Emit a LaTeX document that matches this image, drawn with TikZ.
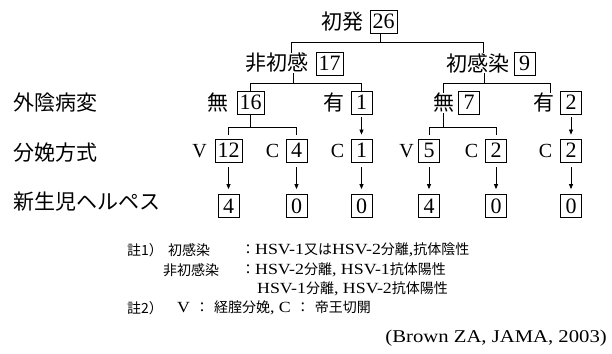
\documentclass[tikz,border=0pt]{standalone}
\usepackage{fontspec}
\setmainfont{Liberation Serif}
\newfontfamily\jpf{Noto Sans CJK JP}
\newfontfamily\widef{Liberation Serif}[FakeStretch=1.15]
\usetikzlibrary{arrows.meta,calc}
\newcommand{\J}[1]{{\jpf\fontsize{14}{14}\selectfont #1}}
\begin{document}
\begin{tikzpicture}[x=1pt,y=-1pt,
  lab/.style={font=\jpf\fontsize{21}{21}\selectfont, inner sep=0pt},
  num/.style={draw, line width=0.8pt, font=\fontsize{22}{22}\selectfont,
    minimum width=21pt, minimum height=23pt, inner xsep=2.5pt, inner ysep=0pt},
  vc/.style={font=\fontsize{20}{20}\selectfont, inner sep=0pt},
  conn/.style={line width=0.7pt},
  arr/.style={conn, -{Triangle[length=5pt,width=4pt]}, shorten <=3pt, shorten >=4pt},
  drop/.style={conn, shorten >=4pt},
  note/.style={font=\widef\fontsize{15.5}{15.5}\selectfont, inner sep=0pt, anchor=west},
  jnote/.style={font=\jpf\fontsize{14}{14}\selectfont, inner sep=0pt, anchor=west}]
\useasboundingbox (0,0) rectangle (612,353);
\fill[white] (0,0) rectangle (612,353);

% row labels
\node[lab, anchor=west] (ra) at (13,103) {外陰病変};
\node[lab, anchor=west] (rb) at (13,153) {分娩方式};
\node[lab, anchor=west] (rc) at (13,202) {新生児ヘルペス};

% level 1
\node[lab] (top) at (342,22) {初発};
\node[num] (n26) at (383.5,21.5) {26};
% level 2
\node[lab] (l2a) at (277,63) {非初感};
\node[num] (n17) at (329.5,63.5) {17};
\node[lab] (l2b) at (478,63) {初感染};
\node[num] (n9) at (524.5,63.5) {9};
% level 3
\node[lab] (m1) at (217.5,103) {無};
\node[num] (n16) at (250.5,102.5) {16};
\node[lab] (u1) at (334,103) {有};
\node[num] (n1a) at (361.5,102.5) {1};
\node[lab] (m2) at (443.5,103) {無};
\node[num] (n7) at (469,102.5) {7};
\node[lab] (u2) at (543.5,103) {有};
\node[num] (n2a) at (571,102.5) {2};
% level 4
\node[vc] (v1) at (199.5,151) {V};
\node[num] (n12) at (228.5,150.5) {12};
\node[vc] (c1) at (272.5,151) {C};
\node[num] (n4) at (296.5,150.5) {4};
\node[vc] (c2) at (337.5,151) {C};
\node[num] (n1b) at (361.5,150.5) {1};
\node[vc] (v2) at (406.5,151) {V};
\node[num] (n5) at (429,150.5) {5};
\node[vc] (c3) at (471.5,151) {C};
\node[num] (n2b) at (496,150.5) {2};
\node[vc] (c4) at (545.5,151) {C};
\node[num] (n2c) at (571,150.5) {2};
% level 5
\node[num] (r1) at (228.5,206) {4};
\node[num] (r2) at (296.5,206) {0};
\node[num] (r3) at (361.5,206) {0};
\node[num] (r4) at (429,206) {4};
\node[num] (r5) at (496,206) {0};
\node[num] (r6) at (571,206) {0};

% connectors level 1 -> 2
\coordinate (j1) at (380,42);
\coordinate (d1) at ($(l2a.north)+(14,0)$);
\coordinate (d2) at ($(l2b.north)+(5,0)$);
\draw[conn] (n26.south -| j1) -- (j1);
\draw[conn] (d1) -- (d1 |- j1) -- (d2 |- j1) -- (d2);

% level 2 -> 3
\coordinate (k1) at (0,83);
\coordinate (s1) at ($(l2a.south)+(16,0)$);
\coordinate (s2) at ($(l2b.south)+(6,0)$);
\coordinate (q2) at ($(u2.north)+(6.5,0)$);
\draw[conn] (s1) -- (s1 |- k1);
\draw[conn] (n16.north) -- (n16.north |- k1) -- (n1a.north |- k1) -- (n1a.north);
\draw[conn] (s2) -- (s2 |- k1);
\draw[conn] (m2.north) -- (m2.north |- k1) -- (q2 |- k1) -- (q2);

% level 3 -> 4
\coordinate (k2) at (0,127);
\draw[conn] (n16.south) -- (n16.south |- k2);
\draw[conn] (n12.north |- k2) -- (n4.north |- k2);
\draw[drop] (n12.north |- k2) -- (n12.north);
\draw[drop] (n4.north |- k2) -- (n4.north);
\draw[arr] (n1a) -- (n1b);
\draw[conn] (m2.south) -- (m2.south |- k2);
\draw[conn] (n5.north |- k2) -- (n2b.north |- k2);
\draw[drop] (n5.north |- k2) -- (n5.north);
\draw[drop] (n2b.north |- k2) -- (n2b.north);
\draw[arr] (n2a) -- (n2c);

% level 4 -> 5
\draw[arr, shorten <=5pt, shorten >=5pt] (n12) -- (r1);
\draw[arr, shorten <=5pt, shorten >=5pt] (n4) -- (r2);
\draw[arr, shorten <=5pt, shorten >=5pt] (n1b) -- (r3);
\draw[arr, shorten <=5pt, shorten >=5pt] (n5) -- (r4);
\draw[arr, shorten <=5pt, shorten >=5pt] (n2b) -- (r5);
\draw[arr, shorten <=5pt, shorten >=5pt] (n2c) -- (r6);

% notes
\node[jnote] (a1) at (127,250) {註1）};
\node[jnote] (a2) at (168,250) {初感染};
\node[note] (a3) at (241,250) {\J{：}HSV-1\J{又は}HSV-2\J{分離},\J{抗体陰性}};
\node[jnote] (b2) at (163,270) {非初感染};
\node[note] (b3) at (241,270) {\J{：}HSV-2\J{分離}, HSV-1\J{抗体陽性}};
\node[note] (c3n) at (257,289) {HSV-1\J{分離}, HSV-2\J{抗体陽性}};
\node[jnote] (e1) at (127,308) {註2）};
\node[note] (e3) at (177,308) {V\hspace{5pt}\J{：\hspace{5pt}経腟分娩}, C\hspace{5pt}\J{：\hspace{5pt}帝王切開}};
\node[font=\widef\fontsize{18}{18}\selectfont, inner sep=0pt, anchor=east] (src) at (607,338) {(Brown ZA, JAMA, 2003)};
\end{tikzpicture}
\end{document}
